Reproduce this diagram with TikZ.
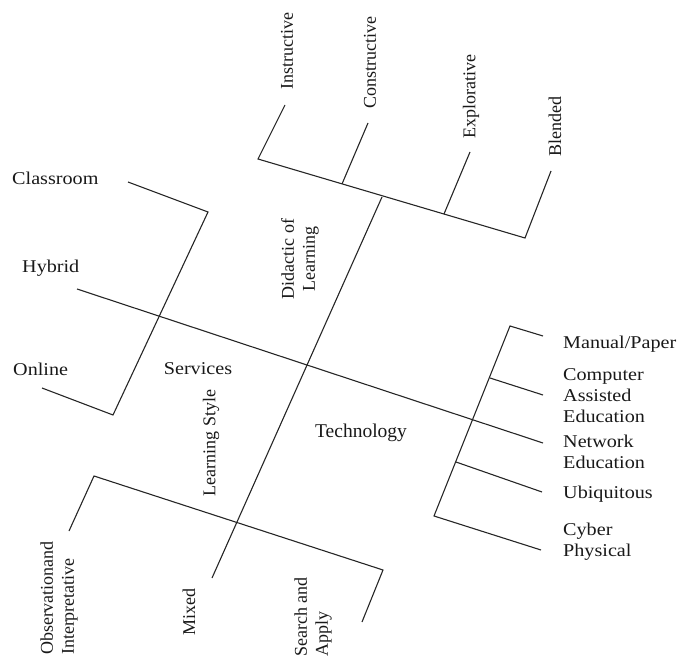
\documentclass[tikz,border=0pt]{standalone}
\usepackage{fontspec}
\setmainfont{Liberation Serif}
\newfontfamily\widefont[FakeStretch=1.12]{Liberation Serif}
\begin{document}
\begin{tikzpicture}[x=1pt,y=-1pt,
  bone/.style={draw=black!85, line width=1.1pt, line join=miter},
  lbl/.style={font=\fontsize{18}{21}\selectfont, inner sep=0pt, text=black!90},
  wlbl/.style={font=\fontsize{18}{21}\selectfont\widefont, inner sep=0pt, text=black!90},
  vlbl/.style={lbl, rotate=90}]
\useasboundingbox (0,0) rectangle (677,660);
% spine (Hybrid line)
\coordinate (H0) at (77,289);
\coordinate (S1) at (158,316);
\coordinate (C) at (307,365);
\coordinate (T1) at (473,419);
\coordinate (NE) at (543,443);
% main diagonal
\coordinate (D) at (382,197);
\coordinate (L1) at (236,523);
\coordinate (MX) at (212,578);
% top bracket
\coordinate (TL) at (258,159);
\coordinate (TR) at (525,238);
\coordinate (CO0) at (342,184);
\coordinate (EX0) at (444,214);
\coordinate (IN) at (285,105);
\coordinate (CO) at (368,123);
\coordinate (EX) at (470,152);
\coordinate (BL) at (551,171);
% left bracket
\coordinate (CL) at (128,182);
\coordinate (CR) at (208,212);
\coordinate (OC) at (113,415);
\coordinate (ON) at (42,388);
% right bracket
\coordinate (RT) at (510,326);
\coordinate (MP) at (543,336);
\coordinate (RB) at (434,516);
\coordinate (CA0) at (490,378);
\coordinate (CA) at (543,395);
\coordinate (UB0) at (456,462);
\coordinate (UB) at (542,492);
\coordinate (CY) at (541,550);
% bottom bracket
\coordinate (BT) at (94,476);
\coordinate (OB) at (69,531);
\coordinate (BR) at (383,570);
\coordinate (SA) at (362,622);

\draw[bone] (H0) -- (NE);
\draw[bone] (D) -- (MX);
\draw[bone] (IN) -- (TL) -- (TR) -- (BL);
\draw[bone] (CO0) -- (CO);
\draw[bone] (EX0) -- (EX);
\draw[bone] (CL) -- (CR) -- (OC) -- (ON);
\draw[bone] (MP) -- (RT) -- (RB) -- (CY);
\draw[bone] (CA0) -- (CA);
\draw[bone] (UB0) -- (UB);
\draw[bone] (OB) -- (BT) -- (BR) -- (SA);

% top labels
\node[vlbl] (nIn) at (287,51) {Instructive};
\node[vlbl] (nCo) at (370,63) {Constructive};
\node[vlbl] (nEx) at (471,97) {Explorative};
\node[vlbl] (nBl) at (555,127) {Blended};
% left labels
\node[wlbl, anchor=west] (nCl) at (12,178) {Classroom};
\node[wlbl, anchor=west] (nHy) at (22,268) {Hybrid};
\node[wlbl, anchor=west] (nOn) at (13,369) {Online};
\node[wlbl] (nSe) at (198,369) {Services};
% centre labels
\node[vlbl, align=center] (nDi) at (300,259) {Didactic of\\Learning};
\node[vlbl] (nLs) at (211,443) {Learning Style};
\node[lbl, font=\fontsize{19.5}{22}\selectfont] (nTe) at (361,433) {Technology};
% right labels
\node[wlbl, anchor=west] (nMp) at (563,344) {Manual/Paper};
\node[wlbl, anchor=west, align=left] (nCa) at (563,396) {Computer\\Assisted\\Education};
\node[wlbl, anchor=west, align=left] (nNe) at (563,452) {Network\\Education};
\node[wlbl, anchor=west] (nUb) at (563,494) {Ubiquitous};
\node[wlbl, anchor=west, align=left] (nCy) at (563,542) {Cyber\\Physical};
% bottom labels
\node[vlbl, align=left] (nOb) at (59,598) {Observationand\\Interpretative};
\node[vlbl] (nMx) at (189,612) {Mixed};
\node[vlbl, align=left] (nSa) at (313,617) {Search and\\Apply};
\end{tikzpicture}
\end{document}
